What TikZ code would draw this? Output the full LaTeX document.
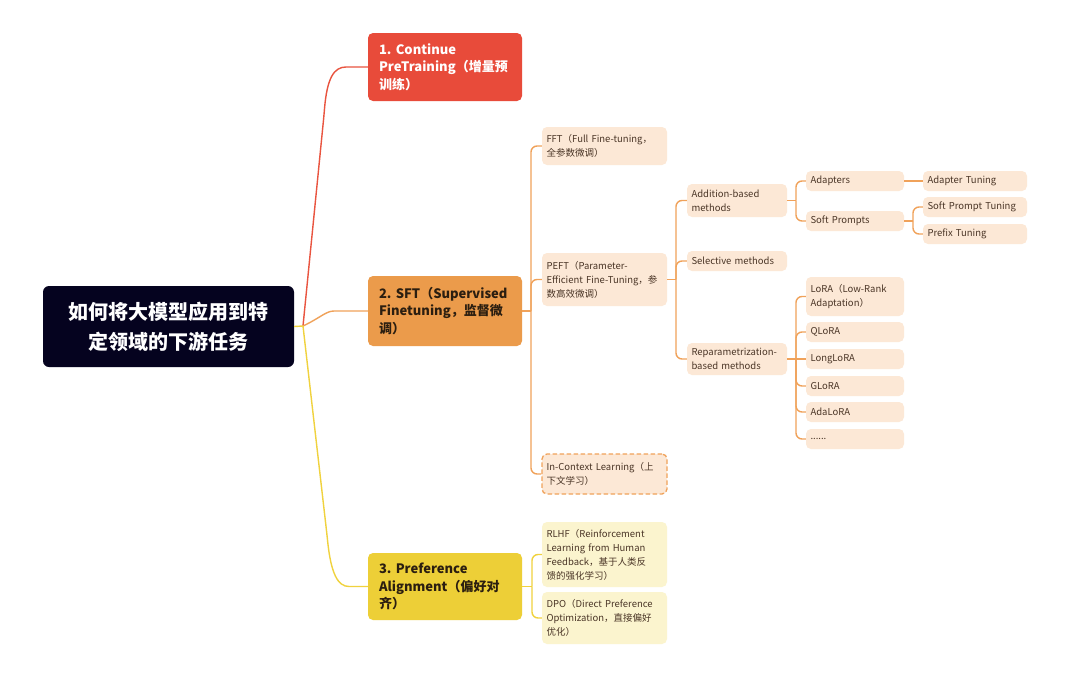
\documentclass[tikz,border=0pt]{standalone}
\usepackage{fontspec}
\setmainfont{Noto Sans CJK SC}
\definecolor{rootfill}{HTML}{05031F}
\definecolor{redfill}{HTML}{E84B3A}
\definecolor{redline}{HTML}{E9543F}
\definecolor{orfill}{HTML}{EB9B4B}
\definecolor{orline}{HTML}{F0A25A}
\definecolor{yefill}{HTML}{EDCF37}
\definecolor{yeline}{HTML}{F0D23E}
\definecolor{peach}{HTML}{FCE8D6}
\definecolor{lemon}{HTML}{FBF4CE}
\definecolor{kidtext}{HTML}{4A3526}
\definecolor{maintext}{HTML}{2B1E10}
\tikzset{
  box/.style={rounded corners=5pt, inner ysep=2pt, align=left},
  mainbox/.style={box, text width=132pt, inner xsep=11pt, font=\fontsize{13}{17.5}\selectfont\bfseries},
  kid/.style={box, inner xsep=4.5pt, text=kidtext, font=\fontsize{9.5}{14}\selectfont},
  kidA/.style={kid, text width=116pt},
  kidB/.style={kid, text width=91pt},
  kidC/.style={kid, text width=89pt},
  kidD/.style={kid, text width=95pt},
  conn/.style={line width=1.4pt, rounded corners=6pt},
  redconn/.style={conn, draw=redline},
  orconn/.style={conn, draw=orline},
  yeconn/.style={conn, draw=yeline},
}
\begin{document}
\begin{tikzpicture}[x=1pt,y=-1pt]
\useasboundingbox (0,0) rectangle (1080,680);
\fill[white] (0,0) rectangle (1080,680);

% root
\node[rounded corners=6pt, fill=rootfill, text=white, minimum width=251pt, minimum height=81pt, align=center,
      font=\fontsize{20}{30}\selectfont\bfseries] (root) at (168.5,326.5) {如何将大模型应用到特\\定领域的下游任务};

% main branches
\node[mainbox, fill=redfill, text=white, minimum height=68pt] (p1) at (445,67) {1.~Continue\\PreTraining（增量预\\训练）};
\node[mainbox, fill=orfill, text=maintext, minimum height=70pt] (p2) at (445,311) {2.~SFT（Supervised\\Finetuning，监督微\\调）};
\node[mainbox, fill=yefill, text=maintext, minimum height=67pt] (p3) at (445,586.5) {3.~Preference\\Alignment（偏好对\\齐）};

% SFT children
\node[kidA, fill=peach, minimum height=38pt] (fft) at (604.5,146) {FFT（Full Fine-tuning，\\全参数微调）};
\node[kidA, fill=peach, minimum height=53pt] (peft) at (604.5,279.5) {PEFT（Parameter-\\Efficient~Fine-Tuning，参\\数高效微调）};
\node[kidA, fill=peach, draw=orline, line width=1.3pt, dash pattern=on 4.5pt off 2.5pt, minimum height=40pt] (icl) at (604.5,474) {In-Context Learning（上\\下文学习）};

% PEFT children
\node[kidB, fill=peach, minimum height=33pt] (add) at (737,200.5) {Addition-based\\methods};
\node[kidB, fill=peach, minimum height=20pt] (sel) at (737,261) {Selective methods};
\node[kidB, fill=peach, minimum height=32pt] (rep) at (737,359) {Reparametrization-\\based methods};

% Addition children
\node[kidC, fill=peach, minimum height=20pt] (adapters) at (855,181) {Adapters};
\node[kidC, fill=peach, minimum height=20pt] (softp) at (855,221) {Soft Prompts};
\node[kidD, fill=peach, minimum height=20pt] (adt) at (975,181) {Adapter Tuning};
\node[kidD, fill=peach, minimum height=20pt] (spt) at (975,207) {Soft Prompt Tuning};
\node[kidD, fill=peach, minimum height=20pt] (pre) at (975,234) {Prefix Tuning};

% Reparam children
\node[kidC, fill=peach, minimum height=39pt] (lora) at (855,296.5) {LoRA（Low-Rank\\Adaptation）};
\node[kidC, fill=peach, minimum height=20pt] (qlora) at (855,332) {QLoRA};
\node[kidC, fill=peach, minimum height=20pt] (longlora) at (855,359) {LongLoRA};
\node[kidC, fill=peach, minimum height=20pt] (glora) at (855,386) {GLoRA};
\node[kidC, fill=peach, minimum height=20pt] (adalora) at (855,412) {AdaLoRA};
\node[kidC, fill=peach, minimum height=20pt] (dots) at (855,439) {......};

% Preference children
\node[kidA, fill=lemon, minimum height=65pt] (rlhf) at (604.5,554.5) {RLHF（Reinforcement\\Learning from Human\\Feedback，基于人类反\\馈的强化学习）};
\node[kidA, fill=lemon, minimum height=52pt] (dpo) at (604.5,618) {DPO（Direct Preference\\Optimization，直接偏好\\优化）};

% junction coordinates
\coordinate (rootj) at (303,326);
\coordinate (sftbus) at (531,311);
\coordinate (peftbus) at (676,279.5);
\coordinate (addbus) at (796,200.5);
\coordinate (spbus) at (913,221);
\coordinate (repbus) at (796,359);
\coordinate (prefbus) at (532,586.5);

% root connectors
\draw[redconn] (rootj) -- (324,115) .. controls (327,78) and (334,67) .. (352,67) -- (p1.west);
\draw[orconn] (rootj) .. controls (320,318) and (326,311) .. (340,311) -- (p2.west);
\draw[yeconn] (rootj) -- (327,535) .. controls (331,574) and (338,586.5) .. (355,586.5) -- (p3.west);
\draw[yeconn] (root.east) -- (rootj);

% SFT connectors
\draw[orconn] (p2.east) -- (sftbus);
\draw[orconn] (sftbus) |- (fft.west);
\draw[orconn] (sftbus) |- (peft.west);
\draw[orconn] (sftbus) |- (icl.west);

% PEFT connectors
\draw[orconn] (peft.east) -- (peftbus);
\draw[orconn] (peftbus) |- (add.west);
\draw[orconn] (peftbus) |- (sel.west);
\draw[orconn] (peftbus) |- (rep.west);

% Addition connectors
\draw[orconn] (add.east) -- (addbus);
\draw[orconn] (addbus) |- (adapters.west);
\draw[orconn] (addbus) |- (softp.west);
\draw[orconn] (adapters.east) -- (adt.west);
\draw[orconn] (softp.east) -- (spbus);
\draw[orconn] (spbus) |- (spt.west);
\draw[orconn] (spbus) |- (pre.west);

% Reparam connectors
\draw[orconn] (rep.east) -- (repbus);
\draw[orconn] (repbus) |- (lora.west);
\draw[orconn] (repbus) |- (qlora.west);
\draw[orconn] (repbus) -- (longlora.west);
\draw[orconn] (repbus) |- (glora.west);
\draw[orconn] (repbus) |- (adalora.west);
\draw[orconn] (repbus) |- (dots.west);

% Preference connectors
\draw[yeconn] (p3.east) -- (prefbus);
\draw[yeconn] (prefbus) |- (rlhf.west);
\draw[yeconn] (prefbus) |- (dpo.west);
\end{tikzpicture}
\end{document}
